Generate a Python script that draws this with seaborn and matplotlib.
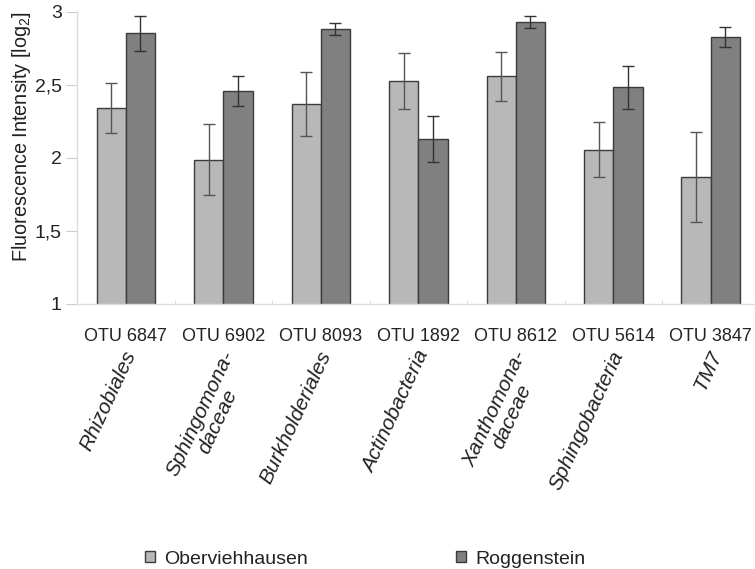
import numpy as np
import pandas as pd
import matplotlib
matplotlib.use("Agg")
import matplotlib.pyplot as plt
import seaborn as sns

# OTUs and their taxonomic assignment
otus = ["OTU 6847", "OTU 6902", "OTU 8093", "OTU 1892", "OTU 8612", "OTU 5614", "OTU 3847"]
taxa = ["Rhizobiales", "Sphingomona-\ndaceae", "Burkholderiales", "Actinobacteria",
        "Xanthomona-\ndaceae", "Sphingobacteria", "TM7"]
sites = ["Oberviehhausen", "Roggenstein"]

# mean fluorescence intensity (log2) and error per site
obv_mean = [2.345, 1.988, 2.368, 2.525, 2.559, 2.057, 1.870]
obv_err = [0.172, 0.242, 0.220, 0.192, 0.170, 0.190, 0.307]
rog_mean = [2.856, 2.457, 2.884, 2.132, 2.932, 2.484, 2.829]
rog_err = [0.120, 0.103, 0.042, 0.158, 0.043, 0.147, 0.067]

df = pd.DataFrame({
    "otu": otus * 2,
    "site": [sites[0]] * len(otus) + [sites[1]] * len(otus),
    "value": obv_mean + rog_mean,
    "err": obv_err + rog_err,
})

sns.set_style("white")
plt.rcParams["font.family"] = ["Liberation Sans", "DejaVu Sans"]

fig = plt.figure(figsize=(7.55, 5.69), dpi=100)
W, H = 755, 569
ax_left, ax_right, ax_top, ax_bottom = 77, 759.5, 12, 304
ax = fig.add_axes([ax_left / W, 1 - ax_bottom / H,
                   (ax_right - ax_left) / W, (ax_bottom - ax_top) / H])

palette = {"Oberviehhausen": "#b8b8b8", "Roggenstein": "#808080"}
sns.barplot(data=df, x="otu", y="value", hue="site", order=otus, hue_order=sites,
            palette=palette, width=0.6, errorbar=None, edgecolor="#3c3c3c",
            linewidth=1.0, saturation=1, ax=ax)

# error bars drawn at the centres of the bars seaborn placed
err_colors = {"Oberviehhausen": "#555555", "Roggenstein": "#333333"}
for container, site in zip(ax.containers, sites):
    sub = df[df.site == site].set_index("otu").loc[otus]
    xs = [p.get_x() + p.get_width() / 2 for p in container.patches]
    ax.errorbar(xs, sub["value"].values, yerr=sub["err"].values, fmt="none",
                ecolor=err_colors[site], elinewidth=1.0, capsize=4,
                capthick=1.0, zorder=5)

handles, labels = ax.get_legend_handles_labels()
ax.get_legend().remove()

ax.set_ylim(1, 3)
ax.set_xlim(-0.5, len(otus) - 0.5)
ax.set_yticks([1, 1.5, 2, 2.5, 3])
ax.set_yticklabels(["1", "1,5", "2", "2,5", "3"], fontsize=14, color="#222222")
ax.tick_params(axis="y", left=True, length=8, width=0.8, color="#cccccc", pad=3)
ax.set_xticks(range(len(otus)))
ax.set_xticklabels(otus, fontsize=13, color="#222222")
ax.tick_params(axis="x", which="major", length=0, pad=17)
ax.set_xticks(np.arange(0.5, len(otus) - 0.5, 1), minor=True)
ax.tick_params(axis="x", which="minor", bottom=True, direction="in", length=3,
               width=0.8, color="#dddddd")
ax.set_xlabel("")
ax.set_ylabel("")
for side in ["top", "right"]:
    ax.spines[side].set_visible(False)
for side in ["left", "bottom"]:
    ax.spines[side].set_color("#dddddd")
    ax.spines[side].set_linewidth(1.0)

# taxonomic names under the OTU labels
y_taxon = (ax_bottom - 348) / (ax_bottom - ax_top)
for i, name in enumerate(taxa):
    ax.text(i - 0.03, y_taxon, name, transform=ax.get_xaxis_transform(),
            rotation=65, rotation_mode="anchor", ha="right", va="top",
            multialignment="center", fontsize=15, style="italic",
            color="#222222", linespacing=1.0)

fig.text(22 / W, 1 - 136 / H, r"Fluorescence Intensity [log$_\mathregular{2}$]",
         rotation=90, ha="center", va="center", fontsize=14.3, color="#222222")

fig.legend(handles, labels, loc="center", bbox_to_anchor=(365 / W, 1 - 559 / H),
           ncol=2, frameon=False, fontsize=14, handlelength=0.55,
           handleheight=0.55, handletextpad=0.45, columnspacing=7.6,
           labelcolor="#222222")

fig.savefig("out.png", dpi=100)
